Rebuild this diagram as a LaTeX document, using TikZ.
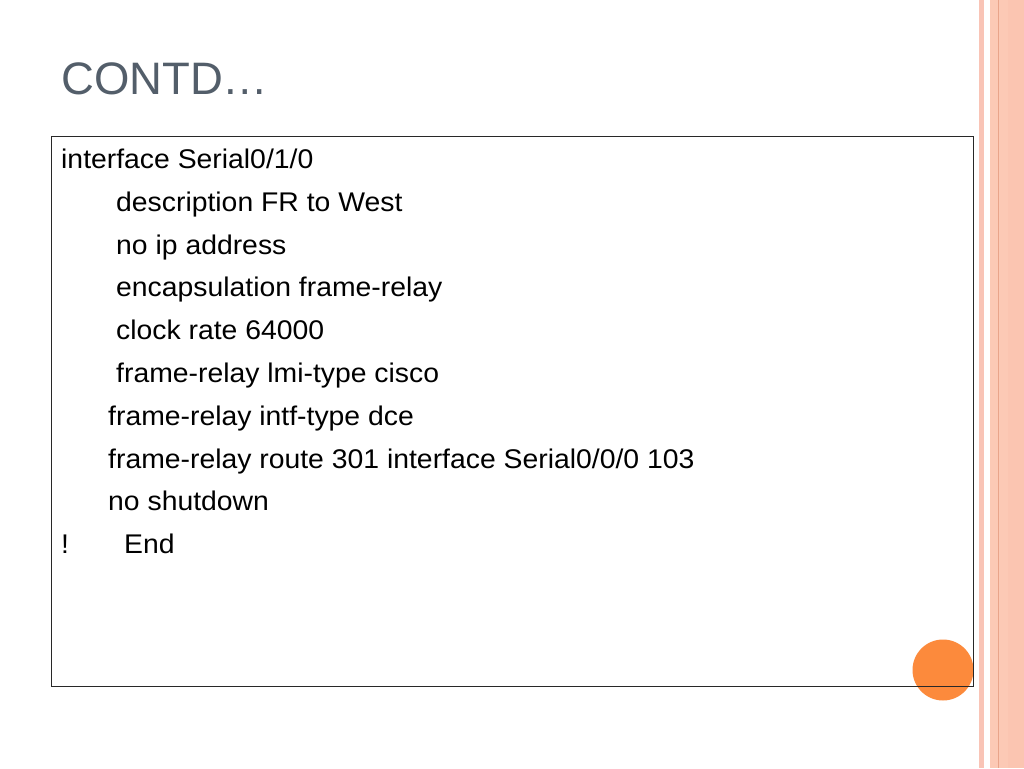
\documentclass[tikz,border=0pt]{standalone}
\usepackage{fontspec}
\setmainfont{Liberation Sans}
\newfontfamily\bodyfont[FakeStretch=1.05]{Liberation Sans}
\definecolor{titlegrey}{RGB}{83,94,106}
\definecolor{dotorange}{RGB}{252,138,60}
\definecolor{stripepink}{RGB}{249,196,182}
\definecolor{stripepeach}{RGB}{252,201,181}
\definecolor{stripepeachb}{RGB}{251,197,177}
\definecolor{stripeline}{RGB}{233,164,138}
\definecolor{boxline}{RGB}{40,40,40}
\begin{document}
\begin{tikzpicture}[x=1pt,y=-1pt,
  codeline/.style={anchor=base west, inner sep=0pt, font=\bodyfont\fontsize{27}{32}\selectfont, text=black},
  titletext/.style={anchor=base west, inner sep=0pt, font=\fontsize{45.5}{50}\selectfont, text=titlegrey}]
\useasboundingbox[fill=white] (0,0) rectangle (1024,768);
% right decorative stripes
\fill[stripepink] (979,0) rectangle (983.5,768);
\fill[stripepeach] (989.5,0) rectangle (1024,768);
\fill[stripepeachb] (1008,0) rectangle (1024,768);
\draw[stripeline, line width=1pt] (998.3,0) -- (998.3,768);
% title
\node[titletext] (title) at (61,94.5) {CONTD…};
% orange dot (under the box border)
\node[circle, fill=dotorange, inner sep=0pt, minimum size=61pt] (dot) at (943,670) {};
% code box
\node[draw=boxline, line width=1.2pt, rectangle, inner sep=0pt, anchor=north west,
      minimum width=922pt, minimum height=550pt] (box) at (51,136) {};
% code lines
\node[codeline] (l1) at (61,168.5) {interface Serial0/1/0};
\node[codeline] (l2) at (116,211.3) {description FR to West};
\node[codeline] (l3) at (116,254.1) {no ip address};
\node[codeline] (l4) at (116,296.9) {encapsulation frame-relay};
\node[codeline] (l5) at (116,339.7) {clock rate 64000};
\node[codeline] (l6) at (116,382.5) {frame-relay lmi-type cisco};
\node[codeline] (l7) at (108,425.3) {frame-relay intf-type dce};
\node[codeline] (l8) at (108,468.1) {frame-relay route 301 interface Serial0/0/0 103};
\node[codeline] (l9) at (108,510.9) {no shutdown};
\node[codeline] (l10a) at (61,553.7) {!};
\node[codeline] (l10b) at (124,553.7) {End};
\end{tikzpicture}
\end{document}
